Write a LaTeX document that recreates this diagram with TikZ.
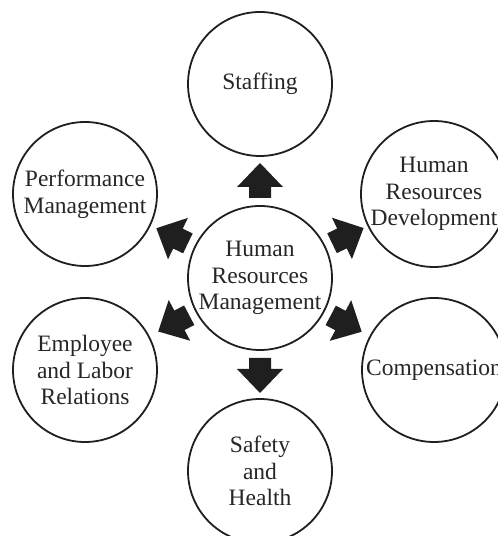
\documentclass[tikz,border=0pt]{standalone}
\usepackage{fontspec}
\setmainfont{Liberation Serif}
\usetikzlibrary{calc}

% Block arrow from the hub towards a satellite circle:
% #1 = hub node, #2 = satellite node
\newcommand\hrmarrow[2]{%
  \coordinate (#2-tail) at ($(#1)!80pt!(#2)$);
  \coordinate (#2-base) at ($(#1)!91pt!(#2)$);
  \coordinate (#2-tip)  at ($(#1)!115pt!(#2)$);
  \fill[blockarrow]
    ($(#2-tail)!11pt!90:(#2-tip)$) --
    ($(#2-base)!11pt!90:(#2-tip)$) --
    ($(#2-base)!23pt!90:(#2-tip)$) --
    (#2-tip) --
    ($(#2-base)!23pt!-90:(#2-tip)$) --
    ($(#2-base)!11pt!-90:(#2-tip)$) --
    ($(#2-tail)!11pt!-90:(#2-tip)$) -- cycle;
}

\begin{document}
\begin{tikzpicture}[x=1pt,y=1pt,
  topic/.style={circle, draw=black!88, line width=1.8pt, minimum size=144pt,
    inner sep=0pt, align=center, text=black!85,
    font=\fontsize{23.5}{26.7}\selectfont},
  blockarrow/.style={fill=black!88, draw=none}]
\clip (0,0) rectangle (498,536);

\node[topic] (hub)   at (260,258) {Human\\Resources\\Management};
\node[topic] (staff) at (260,452) {Staffing};
\node[topic] (hrd)   at (434,342) {Human\\Resources\\Development};
\node[topic] (comp)  at (434,166) {Compensation};
\node[topic] (safe)  at (260,65)  {Safety\\and\\Health};
\node[topic] (elr)   at (85,166)  {Employee\\and Labor\\Relations};
\node[topic] (perf)  at (85,342)  {Performance\\Management};

\hrmarrow{hub}{staff}
\hrmarrow{hub}{hrd}
\hrmarrow{hub}{comp}
\hrmarrow{hub}{safe}
\hrmarrow{hub}{elr}
\hrmarrow{hub}{perf}
\end{tikzpicture}
\end{document}
